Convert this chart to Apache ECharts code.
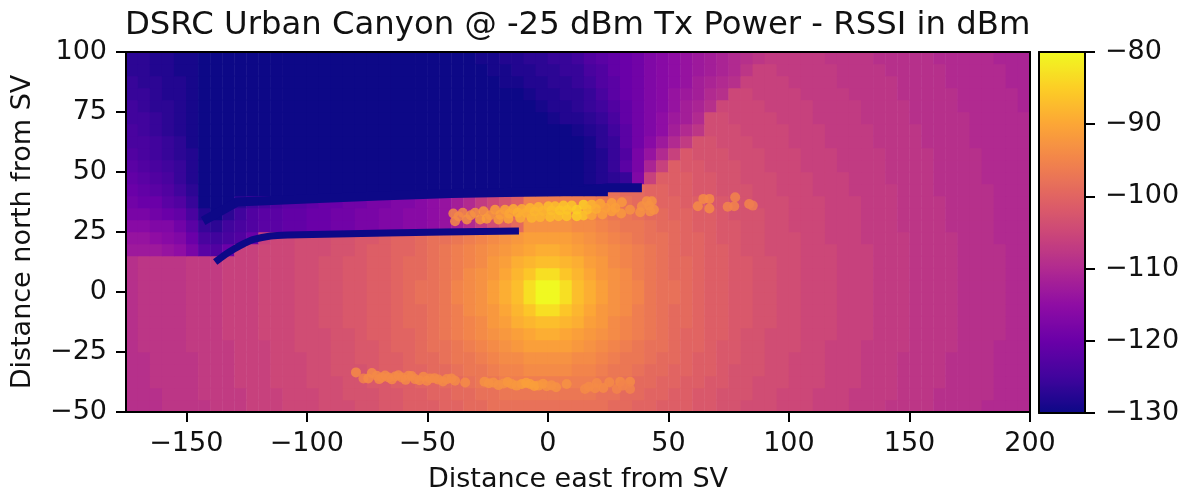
<!DOCTYPE html>
<html><head><meta charset="utf-8"><style>html,body{margin:0;background:#fff}#c{width:1185px;height:498px}</style>
<script src="https://cdn.jsdelivr.net/npm/echarts@6/dist/echarts.min.js"></script></head><body><div id="c"></div>
<script>
const titleText = 'DSRC Urban Canyon @ -25 dBm Tx Power - RSSI in dBm';
const xTicks = [-150,-100,-50,0,50,100,150,200];
const xCells = [-172.5,-167.5,-162.5,-157.5,-152.5,-147.5,-142.5,-137.5,-132.5,-127.5,-122.5,-117.5,-112.5,-107.5,-102.5,-97.5,-92.5,-87.5,-82.5,-77.5,-72.5,-67.5,-62.5,-57.5,-52.5,-47.5,-42.5,-37.5,-32.5,-27.5,-22.5,-17.5,-12.5,-7.5,-2.5,2.5,7.5,12.5,17.5,22.5,27.5,32.5,37.5,42.5,47.5,52.5,57.5,62.5,67.5,72.5,77.5,82.5,87.5,92.5,97.5,102.5,107.5,112.5,117.5,122.5,127.5,132.5,137.5,142.5,147.5,152.5,157.5,162.5,167.5,172.5,177.5,182.5,187.5,192.5,197.5];
const yCells = [-47.5,-42.5,-37.5,-32.5,-27.5,-22.5,-17.5,-12.5,-7.5,-2.5,2.5,7.5,12.5,17.5,22.5,27.5,32.5,37.5,42.5,47.5,52.5,57.5,62.5,67.5,72.5,77.5,82.5,87.5,92.5,97.5];
// signal loss: RSSI = minus this number, one row per yCells entry
const lossRows = [
[109,109,109,108,108,108,108,107,107,107,106,106,106,105,105,105,104,104,104,103,103,102,102,101,101,101,100,100,99,99,98,98,98,98,98,98,98,98,98,98,99,99,100,100,101,101,101,102,102,103,103,104,104,104,105,105,105,106,106,106,107,107,107,108,108,108,108,109,109,109,109,110,110,110,110],
[109,109,109,108,108,108,107,107,107,107,106,106,106,105,105,105,104,104,103,103,103,102,102,101,101,100,100,99,99,98,98,97,97,97,97,97,97,97,97,98,98,99,99,100,100,101,101,102,102,103,103,103,104,104,105,105,105,106,106,106,107,107,107,107,108,108,108,109,109,109,109,109,110,110,110],
[109,109,108,108,108,108,107,107,107,106,106,106,105,105,105,104,104,104,103,103,102,102,101,101,100,100,99,99,98,97,97,96,96,96,96,96,96,96,96,97,97,98,99,99,100,100,101,101,102,102,103,103,104,104,104,105,105,105,106,106,106,107,107,107,108,108,108,108,109,109,109,109,110,110,110],
[109,109,108,108,108,108,107,107,107,106,106,106,105,105,105,104,104,103,103,103,102,101,101,100,100,99,99,98,97,97,96,95,95,94,94,94,94,95,95,96,97,97,98,99,99,100,100,101,101,102,103,103,103,104,104,105,105,105,106,106,106,107,107,107,108,108,108,108,109,109,109,109,110,110,110],
[109,109,108,108,108,108,107,107,107,106,106,106,105,105,105,104,104,103,103,102,102,101,101,100,99,99,98,97,97,96,95,94,94,93,93,93,93,94,94,95,96,97,97,98,99,99,100,101,101,102,102,103,103,104,104,105,105,105,106,106,106,107,107,107,108,108,108,108,109,109,109,109,110,110,110],
[109,108,108,108,108,107,107,107,107,106,106,106,105,105,104,104,104,103,103,102,102,101,100,100,99,98,98,97,96,95,94,93,92,91,91,91,91,92,93,94,95,96,97,98,98,99,100,100,101,102,102,103,103,104,104,104,105,105,106,106,106,107,107,107,107,108,108,108,108,109,109,109,110,110,110],
[109,108,108,108,108,107,107,107,106,106,106,105,105,105,104,104,104,103,103,102,101,101,100,100,99,98,97,96,95,94,93,92,91,90,89,89,90,91,92,93,94,95,96,97,98,99,100,100,101,101,102,103,103,104,104,104,105,105,105,106,106,106,107,107,107,108,108,108,108,109,109,109,109,110,110],
[109,108,108,108,108,107,107,107,106,106,106,105,105,105,104,104,103,103,102,102,101,101,100,99,99,98,97,96,95,94,92,91,89,88,87,87,88,89,91,92,94,95,96,97,98,99,99,100,101,101,102,102,103,103,104,104,105,105,105,106,106,106,107,107,107,108,108,108,108,109,109,109,109,110,110],
[109,108,108,108,108,107,107,107,106,106,106,105,105,105,104,104,103,103,102,102,101,101,100,99,99,98,97,96,94,93,92,90,88,86,83,83,86,88,90,92,93,94,96,97,98,99,99,100,101,101,102,102,103,103,104,104,105,105,105,106,106,106,107,107,107,108,108,108,108,109,109,109,109,110,110],
[109,108,108,108,108,107,107,107,106,106,106,105,105,105,104,104,103,103,102,102,101,101,100,99,98,98,97,95,94,93,91,89,87,83,80,80,83,87,89,91,93,94,95,97,98,98,99,100,101,101,102,102,103,103,104,104,105,105,105,106,106,106,107,107,107,108,108,108,108,109,109,109,109,110,110],
[109,108,108,108,108,107,107,107,106,106,106,105,105,105,104,104,103,103,102,102,101,101,100,99,98,98,97,95,94,93,91,89,87,83,80,80,83,87,89,91,93,94,95,97,98,98,99,100,101,101,102,102,103,103,104,104,105,105,105,106,106,106,107,107,107,108,108,108,108,109,109,109,109,110,110],
[109,108,108,108,108,107,107,107,106,106,106,105,105,105,104,104,103,103,102,102,101,101,100,99,99,98,97,96,94,93,92,90,88,86,83,83,86,88,90,92,93,94,96,97,98,99,99,100,101,101,102,102,103,103,104,104,105,105,105,106,106,106,107,107,107,108,108,108,108,109,109,109,109,110,110],
[109,108,108,108,108,107,107,107,106,106,106,105,105,105,104,104,103,103,102,102,101,101,100,99,99,98,97,96,95,94,92,91,89,88,87,87,88,89,91,92,94,95,96,97,98,99,99,100,101,101,102,102,103,103,104,104,105,105,105,106,106,106,107,107,107,108,108,108,108,109,109,109,109,110,110],
[113,113,113,114,115,118,122,123,120,106,106,105,105,105,104,104,104,103,103,102,101,101,100,100,99,98,97,96,95,94,93,92,91,90,89,89,90,91,92,93,94,95,96,97,98,99,100,100,101,101,102,103,103,104,104,104,105,105,105,106,106,106,107,107,107,108,108,108,108,109,109,109,109,110,110],
[114,114,115,116,117,120,124,125,124,123,120,106,105,105,104,104,104,103,103,102,102,101,100,100,99,98,98,97,96,95,94,93,92,91,91,91,91,92,93,94,95,96,97,98,98,99,100,100,101,102,102,103,103,104,104,104,105,105,106,106,106,107,107,107,107,108,108,108,108,109,109,109,110,110,110],
[116,116,117,117,119,122,126,127,125,124,123,122,122,121,121,120,120,119,119,118,118,117,117,116,116,115,114,112,110,107,104,101,99,93,93,93,93,94,94,95,96,97,97,98,99,99,100,101,101,102,102,103,103,104,104,105,105,105,106,106,106,107,107,107,108,108,108,108,109,109,109,109,110,110,110],
[118,118,119,120,121,124,128,130,127,125,123,122,122,121,121,120,120,119,119,118,118,117,117,116,116,115,114,112,110,107,104,101,99,94,94,94,94,95,95,96,97,97,98,99,99,100,100,101,101,102,103,103,103,104,104,105,105,105,106,106,106,107,107,107,108,108,108,108,109,109,109,109,110,110,110],
[119,120,120,122,123,126,130,130,130,127,125,124,123,122,122,121,120,120,119,119,118,118,117,117,116,115,114,112,110,107,105,103,101,96,96,96,96,96,96,97,97,98,99,99,100,100,101,101,102,102,103,103,104,104,104,105,105,105,106,106,106,107,107,107,108,108,108,108,109,109,109,109,110,110,110],
[120,121,122,123,125,127,130,130,130,130,130,130,130,130,130,130,130,130,130,130,130,130,130,130,130,130,130,130,130,130,130,130,130,130,130,130,130,130,130,130,98,99,99,100,100,101,101,102,102,103,103,103,104,104,105,105,105,106,106,106,107,107,107,107,108,108,108,109,109,109,109,109,110,110,110],
[121,122,123,124,126,128,130,130,130,130,130,130,130,130,130,130,130,130,130,130,130,130,130,130,130,130,130,130,130,130,130,130,130,130,130,130,130,130,129,128,127,126,117,106,101,101,101,102,102,103,103,104,104,104,105,105,105,106,106,106,107,107,107,108,108,108,108,109,109,109,109,110,110,110,110],
[122,123,124,125,126,128,130,130,130,130,130,130,130,130,130,130,130,130,130,130,130,130,130,130,130,130,130,130,130,130,130,130,130,130,130,130,130,130,129,128,126,122,118,111,106,101,102,102,103,103,103,104,104,105,105,105,106,106,106,107,107,107,107,108,108,108,108,109,109,109,109,110,110,110,110],
[123,124,125,126,127,128,130,130,130,130,130,130,130,130,130,130,130,130,130,130,130,130,130,130,130,130,130,130,130,130,130,130,130,130,130,130,130,130,129,128,126,123,118,114,110,106,102,103,103,103,104,104,104,105,105,105,106,106,106,107,107,107,107,108,108,108,108,109,109,109,109,110,110,110,110],
[124,124,125,126,127,129,130,130,130,130,130,130,130,130,130,130,130,130,130,130,130,130,130,130,130,130,130,130,130,130,130,130,130,130,130,130,130,130,129,127,126,122,119,116,113,110,107,103,103,104,104,104,105,105,105,106,106,106,107,107,107,107,108,108,108,108,109,109,109,109,110,110,110,110,110],
[124,125,126,127,128,129,130,130,130,130,130,130,130,130,130,130,130,130,130,130,130,130,130,130,130,130,130,130,130,130,130,130,130,130,130,130,130,129,128,127,125,122,119,117,115,112,110,108,104,104,104,105,105,105,105,106,106,106,107,107,107,107,108,108,108,108,109,109,109,109,110,110,110,110,110],
[125,125,126,127,128,129,130,130,130,130,130,130,130,130,130,130,130,130,130,130,130,130,130,130,130,130,130,130,130,130,130,130,130,130,130,129,128,128,127,126,124,121,119,117,115,113,112,110,104,104,105,105,105,105,106,106,106,107,107,107,107,108,108,108,108,109,109,109,109,109,110,110,110,110,110],
[125,126,127,127,128,129,130,130,130,130,130,130,130,130,130,130,130,130,130,130,130,130,130,130,130,130,130,130,130,130,130,130,130,130,129,128,128,127,126,125,123,121,119,117,116,114,112,111,109,105,105,105,105,106,106,106,106,107,107,107,107,108,108,108,108,109,109,109,109,110,110,110,110,110,111],
[126,126,127,128,128,129,130,130,130,130,130,130,130,130,130,130,130,130,130,130,130,130,130,130,130,130,130,130,130,130,130,130,130,129,128,128,127,127,126,124,122,120,119,117,116,114,113,112,110,109,105,105,106,106,106,106,107,107,107,107,108,108,108,108,109,109,109,109,109,110,110,110,110,110,111],
[126,127,127,128,128,129,130,130,130,130,130,130,130,130,130,130,130,130,130,130,130,130,130,130,130,130,130,130,130,130,130,129,129,128,128,127,127,126,125,123,122,120,119,117,116,115,114,112,111,110,109,106,106,106,106,107,107,107,107,108,108,108,108,108,109,109,109,109,110,110,110,110,110,111,111],
[127,127,128,128,129,129,130,130,130,130,130,130,130,130,130,130,130,130,130,130,130,130,130,130,130,130,130,130,130,130,129,129,128,128,127,127,126,126,124,123,121,120,119,117,116,115,114,113,112,111,110,108,106,106,107,107,107,107,107,108,108,108,108,109,109,109,109,109,110,110,110,110,110,111,111],
[127,127,128,128,129,129,130,130,130,130,130,130,130,130,130,130,130,130,130,130,130,130,130,130,130,130,130,130,130,129,129,128,128,127,127,126,126,125,123,122,121,120,119,117,116,115,114,113,112,111,110,109,108,107,107,107,107,107,108,108,108,108,109,109,109,109,109,110,110,110,110,110,111,111,111]
];
const colorStops = ['#0d0887','#41049d','#6a00a8','#8f0da4','#b12a90','#cc4778','#e16462','#f2844b','#fca636','#fcce25','#f0f921'];
const bandX = [-138,-134,-130,-126,-122,-115,-108,-67,-12];
const bandY = [12.5,15.5,18,20.2,21.9,23.3,23.7,24.6,25.4];
const edgeX = [-143,-129,-100,-70,-40,-12,13,25,39];
const edgeY = [29.6,37.5,38.8,40,41,41.6,42,43.4,43.4];
const pointX = [-39.2,-35.3,-30.2,-26.7,-21.9,-17.8,-14.3,-10.8,-7.4,-3.9,0.2,3,6.5,9.9,14.8,18.2,21.7,26.5,30.7,41,43.1,
-38.5,-33.6,-28.1,-25.4,-20.5,-16.4,-11.5,-6.7,-3.2,0.9,4.4,7.8,12,14.8,18.2,22.6,26.5,30.4,34.1,38.3,42.4,44,
62.2,64.5,67,67,74.6,77.3,77.7,83.5,85,
-79.6,-76.5,-73,-71,-68.9,-66.1,-63.4,-60.6,-57.8,-55.1,-51.6,-48.9,-45.4,-41.9,-38.5,-34.3,-26.3,-22.6,-18.4,-15,-10.8,-7.4,-3.9,-0.5,3.4,7.8,15.4,19.6,20.3,25.5,28.6,30,34.1,34.1,
-74.5,-70,-67.5,-64.7,-62,-59,-56.5,-53.3,-50.2,-47,-43.5,-40,-24.5,-20.5,-16.7,-13,-9,-5.6,-2,1.5,17,23,31,
-37,-32,-24,-19.8,-16,-12.5,-9,-5.5,-2,1.5,5,8,12,16.5,20,24,28,39,42];
const pointY = [32.7,33,33,33.6,34.3,34.3,34.6,34.6,35,35.4,35.7,35.7,36,36,36.4,36.4,36.8,37.1,37.4,37.8,37.8,
29.5,30.2,30.2,30.5,30.2,30.5,30.9,30.9,31.2,31.3,31.6,31.6,31.6,31.9,32,32.3,33.6,32.7,34.3,33.2,33.6,34.3,
35.7,38.8,38.8,34.8,35.5,35.7,39.5,36.7,36,
-33.5,-36,-33.8,-34.9,-35.6,-35.6,-35.2,-35.6,-34.9,-36.3,-35.3,-36,-36.5,-36.3,-37,-37.7,-37.4,-37.7,-38.1,-38.3,-38.3,-38.3,-39,-39.3,-39.7,-38.3,-40.4,-40.1,-37.9,-37.6,-40.4,-37.4,-37.4,-40.4,
-36,-36.3,-34.8,-36.4,-34.7,-36.6,-35,-36.8,-37,-35.9,-37.3,-36,-38,-38.8,-37.5,-39,-37.8,-39.2,-38.2,-38.9,-39.5,-40,-39,
31.5,32,32,32.2,32.6,33,33,33.5,33.8,34,34,34.2,34.3,34.4,34.6,35,35,35.7,36];
const pointRssi = [-94,-94,-93,-92,-91,-90,-89,-89,-88,-88,-87,-87,-86,-86,-85,-88,-90,-91,-92,-93,-93,
-94,-93,-92,-91,-91,-90,-89,-88,-88,-87,-87,-86,-85,-86,-90,-91,-91,-92,-93,-93,-93,-93,
-94,-94,-94,-94,-95,-95,-95,-95,-96,
-94,-95,-94,-94,-94,-94,-94,-94,-94,-94,-94,-94,-94,-94,-94,-94,-93,-93,-93,-92,-91,-91,-92,-93,-93,-93,-94,-94,-94,-94,-95,-94,-94,-95,
-94,-94,-94,-94,-94,-94,-94,-94,-94,-94,-94,-94,-93,-93,-92,-92,-91,-91,-92,-93,-94,-94,-95,
-94,-93,-92,-91,-90,-89,-89,-88,-88,-87,-86,-86,-85,-87,-89,-91,-91,-93,-93];

const FONT = 'DejaVu Sans';
const minus = v => String(v).replace('-', '\u2212');
const heat = [];
lossRows.forEach((row, j) => row.forEach((v, i) => heat.push([i, j, -v])));
const frame = {onZero:false,lineStyle:{color:'#000',width:2}};
const tick = {length:10,lineStyle:{color:'#000',width:2}};
const label = {color:'#111',fontFamily:FONT,fontSize:27,formatter:minus};
const nameStyle = {color:'#111',fontFamily:FONT,fontSize:27};

const option = {
  animation:false,
  backgroundColor:'#fff',
  title:{text:titleText,left:120,top:5,textStyle:{color:'#111',fontFamily:FONT,fontSize:32.3,fontWeight:'normal'}},
  grid:[{left:126,top:52,width:904,height:361},{left:1039,top:52,width:46,height:361}],
  xAxis:[
    {gridIndex:0,type:'category',data:xCells,position:'top',z:10,axisLine:frame,axisTick:{show:false},axisLabel:{show:false},splitLine:{show:false}},
    {gridIndex:0,type:'value',min:-175,max:200,position:'bottom',z:10,axisLine:frame,
     axisTick:{...tick,customValues:xTicks},axisLabel:{...label,margin:18,customValues:xTicks},splitLine:{show:false},
     name:'Distance east from SV',nameLocation:'middle',nameGap:54,nameTextStyle:nameStyle},
    {gridIndex:1,type:'value',min:0,max:1,position:'top',z:10,axisLine:frame,axisTick:{show:false},axisLabel:{show:false},splitLine:{show:false}},
    {gridIndex:1,type:'value',min:0,max:1,position:'bottom',z:10,axisLine:frame,axisTick:{show:false},axisLabel:{show:false},splitLine:{show:false}}
  ],
  yAxis:[
    {gridIndex:0,type:'category',data:yCells,position:'right',z:10,axisLine:frame,axisTick:{show:false},axisLabel:{show:false},splitLine:{show:false}},
    {gridIndex:0,type:'value',min:-50,max:100,interval:25,position:'left',z:10,axisLine:frame,axisTick:tick,
     axisLabel:{...label,margin:19},splitLine:{show:false},
     name:'Distance north from SV',nameLocation:'middle',nameGap:90,nameTextStyle:nameStyle},
    {gridIndex:1,type:'value',min:-130,max:-80,interval:10,position:'right',z:10,axisLine:frame,axisTick:tick,
     axisLabel:{...label,margin:20},splitLine:{show:false}},
    {gridIndex:1,type:'value',min:-130,max:-80,position:'left',z:10,axisLine:frame,axisTick:{show:false},axisLabel:{show:false},splitLine:{show:false}}
  ],
  visualMap:{type:'continuous',min:-130,max:-80,dimension:2,seriesIndex:[0,3],calculable:false,realtime:false,
    left:1039,top:52,itemWidth:46,itemHeight:361,padding:0,text:null,showLabel:false,
    formatter:()=>'',inRange:{color:colorStops},hoverLink:false},
  series:[
    {type:'heatmap',xAxisIndex:0,yAxisIndex:0,data:heat,z:1,progressive:0,emphasis:{disabled:true}},
    {type:'line',xAxisIndex:1,yAxisIndex:1,data:bandX.map((x,i)=>[x,bandY[i]]),smooth:0.3,showSymbol:false,z:2,
     lineStyle:{color:'#0d0887',width:7,cap:'butt'}},
    {type:'line',xAxisIndex:1,yAxisIndex:1,data:edgeX.map((x,i)=>[x,edgeY[i]]),showSymbol:false,z:2,
     lineStyle:{color:'#0d0887',width:9,cap:'butt'}},
    {type:'scatter',xAxisIndex:1,yAxisIndex:1,data:pointX.map((x,i)=>[x,pointY[i],pointRssi[i]]),symbolSize:10,z:3,
     itemStyle:{opacity:0.85}}
  ]
};
echarts.init(document.getElementById('c'),null,{renderer:'canvas'}).setOption(option);
</script></body></html>
